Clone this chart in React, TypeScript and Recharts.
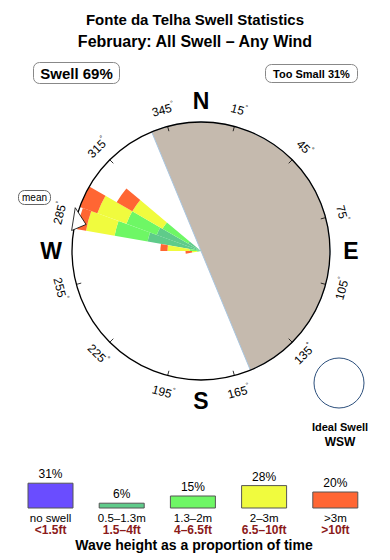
import React from "react";
import {
  RadialBarChart,
  RadialBar,
  PolarAngleAxis,
  PolarRadiusAxis,
  PieChart,
  Pie,
  Cell,
  BarChart,
  Bar,
  XAxis,
  YAxis,
  LabelList,
} from "recharts";

const FONT = '"Liberation Sans", Arial, Helvetica, sans-serif';

// 10 degree sectors of the rose, bearing of each sector centre
const directions = [
  5, 15, 25, 35, 45, 55, 65, 75, 85, 95, 105, 115, 125, 135, 145, 155, 165, 175,
  185, 195, 205, 215, 225, 235, 245, 255, 265, 275, 285, 295, 305, 315, 325, 335,
  345, 355,
];

// sectors that get swell, and the length of each height band (outer ring = 100)
const swellDirs = [265, 275, 285, 295, 305];
const band1 = [1, 3, 42, 36.5, 11.5]; // 0.5-1.3m
const band2 = [2, 6, 26, 25, 23]; // 1.3-2m
const band3 = [4, 17, 22.5, 24, 27]; // 2-3m
const band4 = [5, 5.5, 7, 17.5, 14]; // >3m

const bandKeys = ["b1", "b2", "b3", "b4"];
const bandColors = ["#5fcb8a", "#6ef765", "#f0fb3e", "#ff6633"];

// land sector (bearings) and mean swell direction
const coastFrom = 337.5;
const coastTo = 157.5;
const meanDir = 283;

const compass = ["N", "E", "S", "W"];
const degreeTicks = [15, 45, 75, 105, 135, 165, 195, 225, 255, 285, 315, 345];

// legend
const legendTop = ["no swell", "0.5–1.3m", "1.3–2m", "2–3m", ">3m"];
const legendFeet = ["<1.5ft", "1.5–4ft", "4–6.5ft", "6.5–10ft", ">10ft"];
const legendPct = [31, 6, 15, 28, 20];
const legendColors = ["#6a4dff", ...bandColors];

const CX = 201;
const CY = 251;
const R = 129;
const RAD = Math.PI / 180;
const BAND = 360 / directions.length;
const NO_MARGIN = { top: 0, right: 0, bottom: 0, left: 0 };

const roseData = directions.map((dir) => {
  const i = swellDirs.indexOf(dir);
  const row: Record<string, number> = { dir };
  [band1, band2, band3, band4].forEach((b, k) => {
    row[bandKeys[k]] = i < 0 ? 0 : b[i];
  });
  return row;
});

const landSpan = (coastTo - coastFrom + 360) % 360;
const landData = [
  { name: "land", value: landSpan },
  { name: "sea", value: 360 - landSpan },
];
const landStart = 90 - coastFrom + 360;

const compassData = compass.map((name) => ({ name, value: 1 }));

const legendData = legendTop.map((name, i) => ({ name, pct: legendPct[i] }));

const polar = (cx: number, cy: number, r: number, angle: number) => ({
  x: cx + r * Math.cos(-angle * RAD),
  y: cy + r * Math.sin(-angle * RAD),
});

const DegreeTick = (props: any) => {
  const { payload } = props;
  const bearing = payload.value;
  if (!degreeTicks.includes(bearing)) return <g />;
  const cx = props.cx ?? CX;
  const cy = props.cy ?? CY;
  // tick sits on the band edge, move it to the band centre
  const angle = payload.coordinate + BAND / 2;
  const p = polar(cx, cy, R + 17, angle);
  const t0 = polar(cx, cy, R - 5, angle);
  const t1 = polar(cx, cy, R, angle);
  const rot = ((bearing + 90) % 180) - 90;
  return (
    <g>
      <line x1={t0.x} y1={t0.y} x2={t1.x} y2={t1.y} stroke="#000" strokeWidth={0.8} />
      <text
        transform={`translate(${p.x},${p.y}) rotate(${rot})`}
        textAnchor="middle"
        dominantBaseline="central"
        fontSize={12}
        fill="#000"
      >
        {bearing}
        <tspan fontSize={7} dy={-5}>
          °
        </tspan>
      </text>
    </g>
  );
};

const compassLabel = (props: any) => {
  const cx = props.cx ?? CX;
  const cy = props.cy ?? CY;
  const p = polar(cx, cy, 150, props.midAngle);
  return (
    <text
      x={p.x}
      y={p.y}
      textAnchor="middle"
      dominantBaseline="central"
      fontSize={23}
      fontWeight="bold"
      fill="#000"
    >
      {props.name}
    </text>
  );
};

const LegendTick = (props: any) => {
  const { x, y, index } = props;
  return (
    <g>
      <text x={x} y={y + 14} textAnchor="middle" fontSize={11.5} fill="#000">
        {legendTop[index]}
      </text>
      <text x={x} y={y + 25.5} textAnchor="middle" fontSize={12} fontWeight="bold" fill="#8b1a1a">
        {legendFeet[index]}
      </text>
    </g>
  );
};

const bearingPt = (b: number, r: number) =>
  `${CX + r * Math.sin(b * RAD)},${CY - r * Math.cos(b * RAD)}`;

export default function App() {
  return (
    <div
      style={{
        position: "absolute",
        left: 0,
        top: 0,
        width: 390,
        height: 560,
        background: "#fff",
        fontFamily: FONT,
        overflow: "hidden",
      }}
    >
      <div style={{ position: "absolute", left: 0, top: 0 }}>
        <PieChart width={390} height={440} margin={NO_MARGIN}>
          <Pie
            data={landData}
            dataKey="value"
            cx={CX}
            cy={CY}
            innerRadius={0}
            outerRadius={R}
            startAngle={landStart}
            endAngle={landStart - 360}
            isAnimationActive={false}
          >
            <Cell fill="#c5baae" stroke="#a9c6e0" strokeWidth={1} />
            <Cell fill="none" stroke="none" />
          </Pie>
          <Pie
            data={compassData}
            dataKey="value"
            cx={CX}
            cy={CY}
            innerRadius={0}
            outerRadius={R}
            startAngle={135}
            endAngle={-225}
            fill="none"
            stroke="none"
            label={compassLabel}
            labelLine={false}
            isAnimationActive={false}
          />
        </PieChart>
      </div>

      <div style={{ position: "absolute", left: 0, top: 0 }}>
        <RadialBarChart
          width={390}
          height={440}
          margin={NO_MARGIN}
          cx={CX}
          cy={CY}
          innerRadius={0}
          outerRadius={R}
          data={roseData}
          layout="centric"
          startAngle={90 - BAND}
          endAngle={-270 - BAND}
          barCategoryGap={0}
          barGap={0}
        >
          <PolarAngleAxis
            type="category"
            dataKey="dir"
            axisLineType="circle"
            axisLine={{ stroke: "#000", strokeWidth: 1.3 }}
            tickLine={false}
            tick={DegreeTick}
          />
          <PolarRadiusAxis
            type="number"
            domain={[0, 100]}
            allowDataOverflow
            tick={false}
            axisLine={false}
          />
          {bandKeys.map((k, i) => (
            <RadialBar
              key={k}
              dataKey={k}
              stackId="rose"
              fill={bandColors[i]}
              isAnimationActive={false}
            />
          ))}
        </RadialBarChart>
      </div>

      <svg
        width={390}
        height={560}
        style={{ position: "absolute", left: 0, top: 0 }}
        fontFamily={FONT}
      >
        <text x={195} y={25} textAnchor="middle" fontSize={15} fontWeight="bold">
          Fonte da Telha Swell Statistics
        </text>
        <text x={195} y={47} textAnchor="middle" fontSize={16} fontWeight="bold">
          February: All Swell – Any Wind
        </text>

        <rect x={33.5} y={62.5} width={86} height={21} rx={6} fill="#fff" stroke="#888" />
        <text x={76.5} y={79} textAnchor="middle" fontSize={15} fontWeight="bold">
          Swell 69%
        </text>
        <rect x={265.5} y={64.5} width={92} height={18} rx={6} fill="#fff" stroke="#888" />
        <text x={311.5} y={78} textAnchor="middle" fontSize={11} fontWeight="bold">
          Too Small 31%
        </text>

        <rect x={18.5} y={190.5} width={32} height={14} rx={6} fill="#fff" stroke="#666" />
        <text x={34.5} y={201} textAnchor="middle" fontSize={10}>
          mean
        </text>
        <polygon
          points={`${bearingPt(meanDir - 4, 131)} ${bearingPt(meanDir, 118)} ${bearingPt(meanDir + 6, 133)}`}
          fill="#fff"
          stroke="#000"
          strokeWidth={0.8}
        />

        <circle cx={339} cy={383} r={25} fill="#fff" stroke="#2c4f7c" strokeWidth={1} />
        <text x={340} y={431} textAnchor="middle" fontSize={11} fontWeight="bold">
          Ideal Swell
        </text>
        <text x={340} y={446} textAnchor="middle" fontSize={12} fontWeight="bold">
          WSW
        </text>

        <text x={194} y={550} textAnchor="middle" fontSize={14} fontWeight="bold">
          Wave height as a proportion of time
        </text>
      </svg>

      <div style={{ position: "absolute", left: 0, top: 458 }}>
        <BarChart
          width={390}
          height={100}
          data={legendData}
          margin={{ top: 18, right: 19, bottom: 20, left: 15 }}
        >
          <YAxis hide domain={[0, 40]} />
          <XAxis
            dataKey="name"
            height={30}
            axisLine={false}
            tickLine={false}
            tickSize={0}
            tickMargin={0}
            interval={0}
            tick={LegendTick}
          />
          <Bar dataKey="pct" barSize={45} stroke="#555" strokeWidth={1} isAnimationActive={false}>
            {legendData.map((d, i) => (
              <Cell key={d.name} fill={legendColors[i]} />
            ))}
            <LabelList
              dataKey="pct"
              position="top"
              offset={5}
              fill="#000"
              fontSize={12}
              formatter={(v: any) => `${v}%`}
            />
          </Bar>
        </BarChart>
      </div>
    </div>
  );
}
